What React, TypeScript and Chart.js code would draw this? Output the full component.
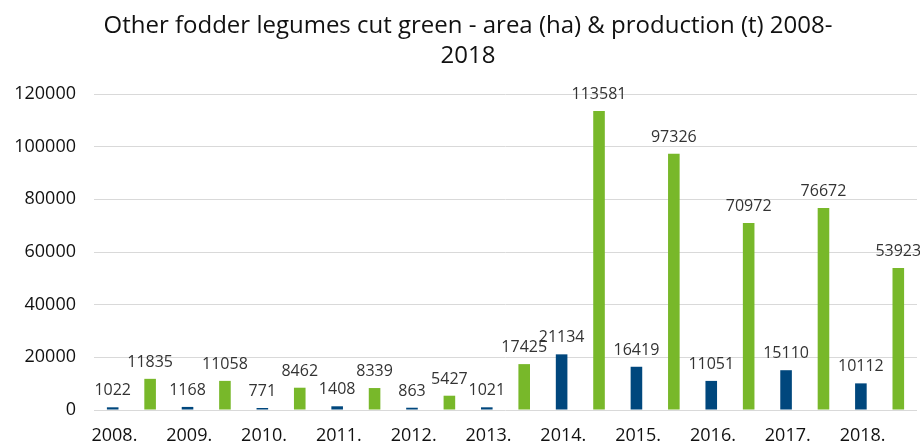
import React, { useEffect, useRef } from "react";
import { Chart, registerables } from "chart.js";

Chart.register(...registerables);

const titleLines = ["Other fodder legumes cut green - area (ha) & production (t) 2008-", "2018"];
const years = ["2008.", "2009.", "2010.", "2011.", "2012.", "2013.", "2014.", "2015.", "2016.", "2017.", "2018."];
const areaHa = [1022, 1168, 771, 1408, 863, 1021, 21134, 16419, 11051, 15110, 10112];
const productionT = [11835, 11058, 8462, 8339, 5427, 17425, 113581, 97326, 70972, 76672, 53923];
const yTicks = [0, 20000, 40000, 60000, 80000, 100000, 120000];

const FONT = "'Open Sans', 'Noto Sans', sans-serif";

const titlePlugin = {
  id: "customTitle",
  afterDraw(chart: any) {
    const ctx = chart.ctx;
    ctx.save();
    ctx.fillStyle = "#111111";
    ctx.font = `24px ${FONT}`;
    ctx.textAlign = "center";
    ctx.textBaseline = "alphabetic";
    ctx.fillText(titleLines[0], 468, 33);
    ctx.fillText(titleLines[1], 468, 63);
    ctx.restore();
  },
};

const valueLabelPlugin = {
  id: "valueLabels",
  afterDatasetsDraw(chart: any) {
    const ctx = chart.ctx;
    ctx.save();
    ctx.fillStyle = "#333333";
    ctx.font = `16px ${FONT}`;
    ctx.textAlign = "center";
    ctx.textBaseline = "alphabetic";
    chart.data.datasets.forEach((ds: any, di: number) => {
      const meta = chart.getDatasetMeta(di);
      meta.data.forEach((bar: any, i: number) => {
        ctx.fillText(String(ds.data[i]), bar.x, bar.y - 12);
      });
    });
    ctx.restore();
  },
};

export default function App() {
  const ref = useRef<HTMLCanvasElement>(null);
  useEffect(() => {
    document.body.style.margin = "0";
    const chart = new Chart(ref.current!, {
      type: "bar",
      data: {
        labels: years,
        datasets: [
          {
            label: "Area (ha)",
            data: areaHa,
            backgroundColor: "#00477D",
            categoryPercentage: 1,
            barPercentage: 0.31,
          },
          {
            label: "Production (t)",
            data: productionT,
            backgroundColor: "#78B82A",
            categoryPercentage: 1,
            barPercentage: 0.31,
          },
        ],
      },
      options: {
        animation: false,
        responsive: false,
        layout: { padding: { top: 94, right: 3, left: 0, bottom: 0 } },
        plugins: {
          legend: { display: false },
          title: { display: false },
          tooltip: { enabled: false },
        },
        scales: {
          x: {
            grid: { display: false, drawTicks: false },
            border: { display: false },
            ticks: {
              color: "#111111",
              font: { family: FONT, size: 18 },
              padding: 15,
              labelOffset: -17,
              maxRotation: 0,
              autoSkip: false,
            },
            afterFit(scale: any) {
              scale.height = 35;
            },
          },
          y: {
            min: 0,
            max: 120000,
            afterBuildTicks(scale: any) {
              scale.ticks = yTicks.map((v) => ({ value: v }));
            },
            grid: { color: "#d9d9d9", drawTicks: false, lineWidth: 1 },
            border: { display: false },
            ticks: {
              color: "#111111",
              font: { family: FONT, size: 18 },
              padding: 18,
              callback: (v: any) => String(v),
            },
            afterFit(scale: any) {
              scale.width = 94;
            },
          },
        },
      },
      plugins: [titlePlugin, valueLabelPlugin],
    });
    return () => chart.destroy();
  }, []);
  return (
    <div style={{ position: "absolute", left: 0, top: 0, width: 920, height: 445 }}>
      <canvas ref={ref} width={920} height={445} style={{ width: 920, height: 445 }} />
    </div>
  );
}
